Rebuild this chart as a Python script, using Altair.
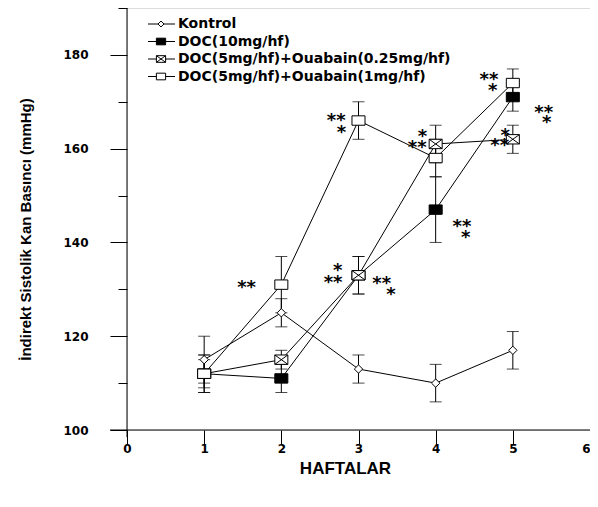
import altair as alt
import pandas as pd

weeks = [1, 2, 3, 4, 5]
series = ["Kontrol", "DOC(10mg/hf)", "DOC(5mg/hf)+Ouabain(0.25mg/hf)", "DOC(5mg/hf)+Ouabain(1mg/hf)"]
kontrol = [115, 125, 113, 110, 117]
kontrol_err = [5, 3, 3, 4, 4]
doc10 = [112, 111, 133, 147, 171]
doc10_err = [4, 3, 4, 7, 3]
oua025 = [112, 115, 133, 161, 162]
oua025_err = [3, 2, 4, 4, 3]
oua1 = [112, 131, 166, 158, 174]
oua1_err = [4, 6, 4, 4, 3]

# significance stars (text, week position, value position)
star_text = ["**", "**", "*", "*", "**", "**", "*", "*", "**", "**", "*", "**", "*", "**", "*", "*", "**"]
star_x = [1.55, 2.71, 2.78, 2.73, 2.67, 3.30, 3.42, 3.83, 3.76, 4.34, 4.39, 4.69, 4.74, 5.40, 5.44, 4.90, 4.83]
star_y = [131.4, 167.0, 164.4, 135.0, 132.4, 132.2, 129.9, 163.6, 161.2, 144.4, 142.0, 175.7, 173.4, 168.7, 166.6, 163.8, 161.7]

SQ = "M-1,-0.72H1V0.72H-1Z"
XSQ = "M-1,-0.72H1V0.72H-1Z M-1,-0.72L1,0.72 M1,-0.72L-1,0.72"
DIA = "M0,-1L1,0L0,1L-1,0Z"
styles = {
    series[0]: dict(shape=DIA, fill="white", size=70),
    series[1]: dict(shape=SQ, fill="black", size=170),
    series[2]: dict(shape=XSQ, fill="white", size=170),
    series[3]: dict(shape=SQ, fill="white", size=170),
}

rows = []
for name, vals, errs in zip(series, [kontrol, doc10, oua025, oua1],
                            [kontrol_err, doc10_err, oua025_err, oua1_err]):
    for w, v, e in zip(weeks, vals, errs):
        rows.append(dict(series=name, week=w, value=v, lo=v - e, hi=v + e))
df = pd.DataFrame(rows)
stars = pd.DataFrame(dict(t=star_text, x=star_x, y=star_y))

FONT = "Liberation Sans"
HEAVY = "DejaVu Sans"
xs = alt.Scale(domain=[0, 6], nice=False, zero=False)
ys = alt.Scale(domain=[100, 190], nice=False, zero=False)

x_axis = alt.Axis(
    values=[i * 0.5 for i in range(13)], domain=False, grid=False, labelFlush=False,
    labelExpr="datum.value % 1 === 0 ? format(datum.value, 'd') : ''",
    labelAlign={"condition": {"test": "datum.value === 6", "value": "right"}, "value": "center"},
    tickSize={"condition": {"test": "datum.value % 1 === 0", "value": 14}, "value": 7},
    tickColor="black", labelFont=HEAVY, labelFontWeight="bold", labelFontSize=12,
    labelColor="black", labelPadding=-1,
    title="HAFTALAR", titleFont=FONT, titleFontWeight="bold", titleFontSize=17,
    titleColor="black", titleX=218, titleY=38, titleBaseline="middle", titleAnchor=None,
)
y_axis = alt.Axis(
    values=list(range(100, 191, 10)), domain=False, grid=False, labelFlush=False,
    labelExpr="datum.value % 20 === 0 ? datum.label : ''",
    tickSize={"condition": {"test": "datum.value % 20 === 0", "value": 17}, "value": 9},
    tickColor="black", labelFont=HEAVY, labelFontWeight="bold", labelFontSize=12,
    labelColor="black", labelPadding=22,
    title="İndirekt Sistolik Kan Basıncı (mmHg)", titleFont=FONT, titleFontWeight="bold",
    titleFontSize=15, titleColor="black", titleAngle=270, titleX=-102, titleY=221,
    titleBaseline="middle", titleAlign="center",
)

base = alt.Chart(df)

layers = []
# axis lines
layers.append(alt.Chart(pd.DataFrame({"a": [0]})).mark_rule(color="black", strokeWidth=1).encode(
    x=alt.X("x1:Q", scale=xs, axis=x_axis), x2="x2:Q", y=alt.Y("y1:Q", scale=ys, axis=y_axis)
).transform_calculate(x1="-0.22", x2="6", y1="100"))
layers.append(alt.Chart(pd.DataFrame({"a": [0]})).mark_rule(color="black", strokeWidth=1).encode(
    x=alt.X("x1:Q", scale=xs), y=alt.Y("y1:Q", scale=ys), y2="y2:Q"
).transform_calculate(x1="0", y1="98.5", y2="190"))

for name in series:
    sub = base.transform_filter(alt.datum.series == name)
    layers.append(sub.mark_line(color="black", strokeWidth=1).encode(
        x=alt.X("week:Q", scale=xs), y=alt.Y("value:Q", scale=ys)))
for name in series:
    sub = base.transform_filter(alt.datum.series == name)
    layers.append(sub.mark_rule(color="black", strokeWidth=1).encode(
        x=alt.X("week:Q", scale=xs), y=alt.Y("lo:Q", scale=ys), y2="hi:Q"))
    for f in ["lo", "hi"]:
        layers.append(sub.mark_tick(color="black", orient="horizontal", size=12, thickness=1).encode(
            x=alt.X("week:Q", scale=xs), y=alt.Y(f + ":Q", scale=ys)))
for name in series:
    st = styles[name]
    sub = base.transform_filter(alt.datum.series == name)
    layers.append(sub.mark_point(shape=st["shape"], filled=False, fill=st["fill"], fillOpacity=1,
                                 stroke="black", strokeWidth=1, size=st["size"], opacity=1).encode(
        x=alt.X("week:Q", scale=xs), y=alt.Y("value:Q", scale=ys)))

layers.append(alt.Chart(stars).mark_text(font=HEAVY, fontWeight="bold", fontSize=18,
                                         color="black", baseline="alphabetic", dy=10).encode(
    x=alt.X("x:Q", scale=xs), y=alt.Y("y:Q", scale=ys), text="t:N"))

# legend
leg_y = [16, 33.5, 51, 68.5]
for i, name in enumerate(series):
    st = styles[name]
    ld = pd.DataFrame({"label": [name]})
    yy = leg_y[i]
    layers.append(alt.Chart(ld).mark_rule(color="black", strokeWidth=1).encode(
        x=alt.value(21), x2=alt.value(48), y=alt.value(yy)))
    layers.append(alt.Chart(ld).mark_point(shape=st["shape"], filled=False, fill=st["fill"],
                                           fillOpacity=1, stroke="black", strokeWidth=1,
                                           size=st["size"] * 0.5, opacity=1).encode(
        x=alt.value(34), y=alt.value(yy)))
    layers.append(alt.Chart(ld).mark_text(font=HEAVY, fontWeight="bold", fontSize=14, color="black",
                                          align="left", baseline="middle").encode(
        x=alt.value(51), y=alt.value(yy), text="label:N"))

chart = alt.layer(*layers).properties(
    width=463, height=422, padding={"left": 119, "top": 0, "right": 0, "bottom": 69},
    autosize=alt.AutoSizeParams(type="none"),
).configure_view(stroke=None).configure(background="white")

chart.save("out.html", embed_options={"renderer": "svg", "actions": False})
